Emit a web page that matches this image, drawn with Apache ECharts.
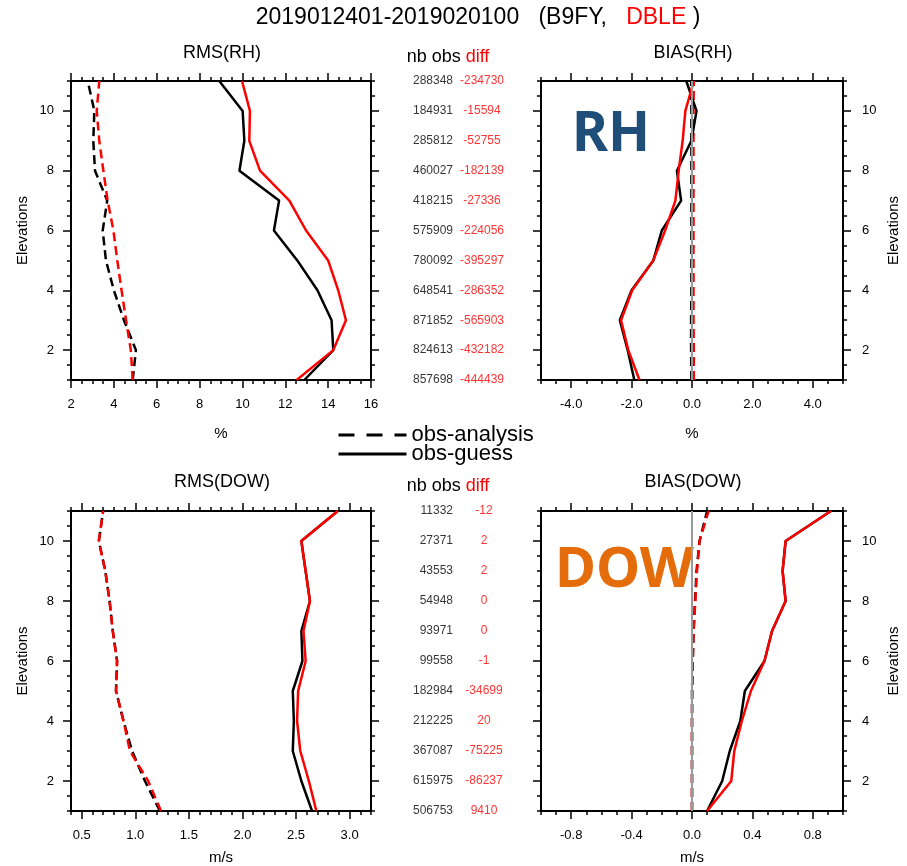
<!DOCTYPE html>
<html>
<head>
<meta charset="utf-8">
<script src="https://cdn.jsdelivr.net/npm/echarts@6/dist/echarts.min.js"></script>
<style>html,body{margin:0;padding:0;background:#fff}#chart{width:907px;height:866px}</style>
</head>
<body>
<div id="chart"></div>
<script>
// levels, bottom to top
var elevations = [1, 2, 3, 4, 5, 6, 7, 8, 9, 10, 11];

// RMS(RH) in %
var rmsRhB9fyAna = [4.88, 5.03, 4.47, 4.00, 3.63, 3.48, 3.69, 3.12, 3.04, 3.09, 2.78];
var rmsRhDbleAna = [4.88, 4.79, 4.57, 4.36, 4.16, 3.98, 3.71, 3.51, 3.32, 3.20, 3.32];
var rmsRhB9fyGes = [12.89, 14.24, 14.16, 13.50, 12.56, 11.47, 11.71, 9.86, 10.09, 10.01, 8.92];
var rmsRhDbleGes = [12.53, 14.24, 14.83, 14.47, 14.00, 12.97, 12.19, 10.82, 10.32, 10.35, 9.98];

// BIAS(RH) in %
var biasRhB9fyAna = [-0.02, -0.03, -0.03, -0.02, -0.02, -0.02, -0.02, -0.02, -0.02, -0.02, -0.03];
var biasRhDbleAna = [0.06, 0.06, 0.05, 0.05, 0.05, 0.05, 0.05, 0.05, 0.05, 0.05, 0.06];
var biasRhB9fyGes = [-1.91, -2.13, -2.39, -2.00, -1.28, -1.00, -0.36, -0.50, -0.02, 0.15, -0.19];
var biasRhDbleGes = [-1.74, -2.11, -2.35, -1.98, -1.28, -0.89, -0.55, -0.44, -0.31, -0.22, 0.06];

// RMS(DOW) in m/s
var rmsDowB9fyAna = [1.23, 1.09, 0.97, 0.89, 0.82, 0.83, 0.79, 0.76, 0.72, 0.66, 0.70];
var rmsDowDbleAna = [1.24, 1.12, 0.95, 0.89, 0.82, 0.83, 0.79, 0.76, 0.72, 0.66, 0.70];
var rmsDowB9fyGes = [2.65, 2.55, 2.47, 2.48, 2.47, 2.56, 2.55, 2.63, 2.59, 2.55, 2.89];
var rmsDowDbleGes = [2.69, 2.62, 2.54, 2.51, 2.52, 2.59, 2.57, 2.63, 2.59, 2.55, 2.89];

// BIAS(DOW) in m/s
var biasDowB9fyAna = [0.00, 0.00, 0.00, 0.00, 0.00, 0.005, 0.01, 0.02, 0.03, 0.05, 0.10];
var biasDowDbleAna = [0.00, 0.00, 0.00, 0.00, 0.002, 0.005, 0.011, 0.022, 0.033, 0.05, 0.11];
var biasDowB9fyGes = [0.10, 0.20, 0.25, 0.32, 0.35, 0.48, 0.53, 0.62, 0.60, 0.62, 0.92];
var biasDowDbleGes = [0.10, 0.26, 0.28, 0.33, 0.39, 0.48, 0.53, 0.62, 0.60, 0.62, 0.92];

// observation counts and differences
var nbObsRh = [857698, 824613, 871852, 648541, 780092, 575909, 418215, 460027, 285812, 184931, 288348];
var diffRh = [-444439, -432182, -565903, -286352, -395297, -224056, -27336, -182139, -52755, -15594, -234730];
var nbObsDow = [506753, 615975, 367087, 212225, 182984, 99558, 93971, 54948, 43553, 27371, 11332];
var diffDow = [9410, -86237, -75225, 20, -34699, -1, 0, 0, 2, 2, -12];

// tick labels
var ticksRmsRh = [2, 4, 6, 8, 10, 12, 14, 16];
var ticksBiasRh = [-4, -2, 0, 2, 4];
var ticksRmsDow = [0.5, 1.0, 1.5, 2.0, 2.5, 3.0];
var ticksBiasDow = [-0.8, -0.4, 0, 0.4, 0.8];
var ticksElev = [2, 4, 6, 8, 10];

var FONT = '"Liberation Sans", Arial, sans-serif';
var chart = echarts.init(document.getElementById('chart'));

var xAxes = [], yAxes = [];

function addSide(list, grid, pos, min, max, minorStep, majors, labeled, fmt, name, nameGap, margin) {
    var idx = list.length;
    list.push({
        type: 'value', gridIndex: grid, position: pos, min: min, max: max, offset: 0,
        name: name || '', nameLocation: 'middle', nameGap: nameGap || 0,
        nameRotate: (pos === 'left' || pos === 'right') ? 90 : 0,
        nameTextStyle: {fontFamily: FONT, fontSize: 15, color: '#000'},
        axisLine: {show: true, onZero: false, lineStyle: {color: '#000', width: 2}},
        axisTick: {show: true, inside: false, length: 8, customValues: majors, lineStyle: {color: '#000', width: 1.5}},
        axisLabel: {show: labeled, customValues: majors, formatter: fmt, margin: margin || 15,
            fontFamily: FONT, fontSize: 13, color: '#000'},
        splitLine: {show: false}
    });
    list.push({
        type: 'value', gridIndex: grid, position: pos, min: min, max: max, interval: minorStep, offset: 0,
        axisLine: {show: false, onZero: false},
        axisTick: {show: true, inside: false, length: 4, lineStyle: {color: '#000', width: 1.5}},
        axisLabel: {show: false},
        splitLine: {show: false}
    });
    return idx;
}

function int(v) { return String(v); }
function one(v) { return v.toFixed(1); }

var grids = [
    {left: 71, top: 81, width: 300, height: 299},
    {left: 541, top: 81, width: 302, height: 299},
    {left: 71, top: 511, width: 300, height: 300},
    {left: 541, top: 511, width: 302, height: 300},
    {left: 400, top: 81, width: 100, height: 299},
    {left: 400, top: 511, width: 100, height: 300}
];

var panels = [
    {x: [2, 16, 0.5, ticksRmsRh, int, '%', 46], yLeft: true, data: [rmsRhB9fyAna, rmsRhDbleAna, rmsRhB9fyGes, rmsRhDbleGes]},
    {x: [-5, 5, 0.5, ticksBiasRh, one, '%', 46], yLeft: false, zero: true, data: [biasRhB9fyAna, biasRhDbleAna, biasRhB9fyGes, biasRhDbleGes]},
    {x: [0.4, 3.2, 0.1, ticksRmsDow, one, 'm/s', 39], yLeft: true, data: [rmsDowB9fyAna, rmsDowDbleAna, rmsDowB9fyGes, rmsDowDbleGes]},
    {x: [-1, 1, 0.1, ticksBiasDow, one, 'm/s', 39], yLeft: false, zero: true, data: [biasDowB9fyAna, biasDowDbleAna, biasDowB9fyGes, biasDowDbleGes]}
];

function pairs(vals) {
    return elevations.map(function (e, i) { return [vals[i], e]; });
}

var series = [];
var styles = [
    {name: 'obs-analysis', color: '#000', type: [9, 5]},
    {name: 'DBLE obs-analysis', color: '#ff0000', type: [9, 5]},
    {name: 'obs-guess', color: '#000', type: 'solid'},
    {name: 'DBLE obs-guess', color: '#ff0000', type: 'solid'}
];

panels.forEach(function (p, g) {
    var xi = addSide(xAxes, g, 'bottom', p.x[0], p.x[1], p.x[2], p.x[3], true, p.x[4], p.x[5], p.x[6], 18);
    addSide(xAxes, g, 'top', p.x[0], p.x[1], p.x[2], p.x[3], false, p.x[4]);
    var yl = addSide(yAxes, g, 'left', 1, 11, 0.5, ticksElev, p.yLeft, int, p.yLeft ? 'Elevations' : '', 41, 17);
    addSide(yAxes, g, 'right', 1, 11, 0.5, ticksElev, !p.yLeft, int, p.yLeft ? '' : 'Elevations', 43, 19);
    p.data.forEach(function (vals, k) {
        var s = {
            type: 'line', name: styles[k].name, xAxisIndex: xi, yAxisIndex: yl,
            data: pairs(vals), symbol: 'none', smooth: false, animation: false,
            lineStyle: {color: styles[k].color, width: 2.5, type: styles[k].type},
            itemStyle: {color: styles[k].color}
        };
        if (p.zero && k === 0) {
            s.markLine = {
                silent: true, symbol: 'none', animation: false, label: {show: false},
                lineStyle: {color: '#9a9a9a', width: 2, type: 'solid'},
                data: [{xAxis: 0}]
            };
        }
        series.push(s);
    });
});

// middle columns: counts and differences placed on the elevation scale
[[nbObsRh, diffRh, 4, 0.82], [nbObsDow, diffDow, 5, 0.84]].forEach(function (c) {
    var xi = xAxes.length, yi = yAxes.length;
    xAxes.push({type: 'value', gridIndex: c[2], min: 0, max: 1, show: false});
    yAxes.push({type: 'value', gridIndex: c[2], min: 1, max: 11, show: false});
    series.push({
        type: 'scatter', xAxisIndex: xi, yAxisIndex: yi, symbolSize: 0, animation: false, silent: true,
        data: elevations.map(function (e, i) { return [0.53, e, c[0][i]]; }),
        label: {show: true, position: 'left', distance: 0, color: '#000', fontFamily: FONT, fontSize: 12,
            formatter: function (d) { return String(d.value[2]); }}
    });
    series.push({
        type: 'scatter', xAxisIndex: xi, yAxisIndex: yi, symbolSize: 0, animation: false, silent: true,
        data: elevations.map(function (e, i) { return [c[3], e, c[1][i]]; }),
        label: {show: true, position: 'inside', color: '#ff0000', fontFamily: FONT, fontSize: 12,
            formatter: function (d) { return String(d.value[2]); }}
    });
});

function txt(x, y, text, size, extra) {
    var st = {text: text, fontFamily: FONT, fontSize: size, fill: '#000', align: 'center', verticalAlign: 'middle',
        rich: {r: {fill: '#ff0000', fontFamily: FONT, fontSize: size}}};
    for (var k in extra || {}) st[k] = extra[k];
    return {type: 'text', x: x, y: y, silent: true, style: st};
}

var option = {
    animation: false,
    backgroundColor: '#fff',
    grid: grids.map(function (g) { g.outerBoundsMode = 'none'; return g; }),
    xAxis: xAxes,
    yAxis: yAxes,
    legend: {
        orient: 'vertical', left: 332, top: 419, itemWidth: 68, itemHeight: 14, itemGap: -3,
        selectedMode: false,
        textStyle: {fontFamily: FONT, fontSize: 22, lineHeight: 19, color: '#000'},
        data: [
            {name: 'obs-analysis', itemStyle: {opacity: 0}, lineStyle: {type: [16, 12], width: 3, color: '#000'}},
            {name: 'obs-guess', itemStyle: {opacity: 0}, lineStyle: {type: 'solid', width: 3, color: '#000'}}
        ]
    },
    graphic: [
        txt(478, 18, '2019012401-2019020100   (B9FY,   {r|DBLE} )', 23),
        txt(222, 53, 'RMS(RH)', 18),
        txt(693, 53, 'BIAS(RH)', 18),
        txt(448, 57, 'nb obs {r|diff}', 18),
        txt(222, 482, 'RMS(DOW)', 18),
        txt(693, 482, 'BIAS(DOW)', 18),
        txt(448, 486, 'nb obs {r|diff}', 18),
        txt(572, 135, 'RH', 55, {align: 'left', fill: '#1F4E79', fontFamily: '"Noto Sans", sans-serif', fontWeight: 'bold'}),
        txt(555, 571, 'DOW', 56, {align: 'left', fill: '#E46C0A', fontFamily: '"Noto Sans", sans-serif', fontWeight: 'bold'})
    ],
    series: series
};
chart.setOption(option);
</script>
</body>
</html>
